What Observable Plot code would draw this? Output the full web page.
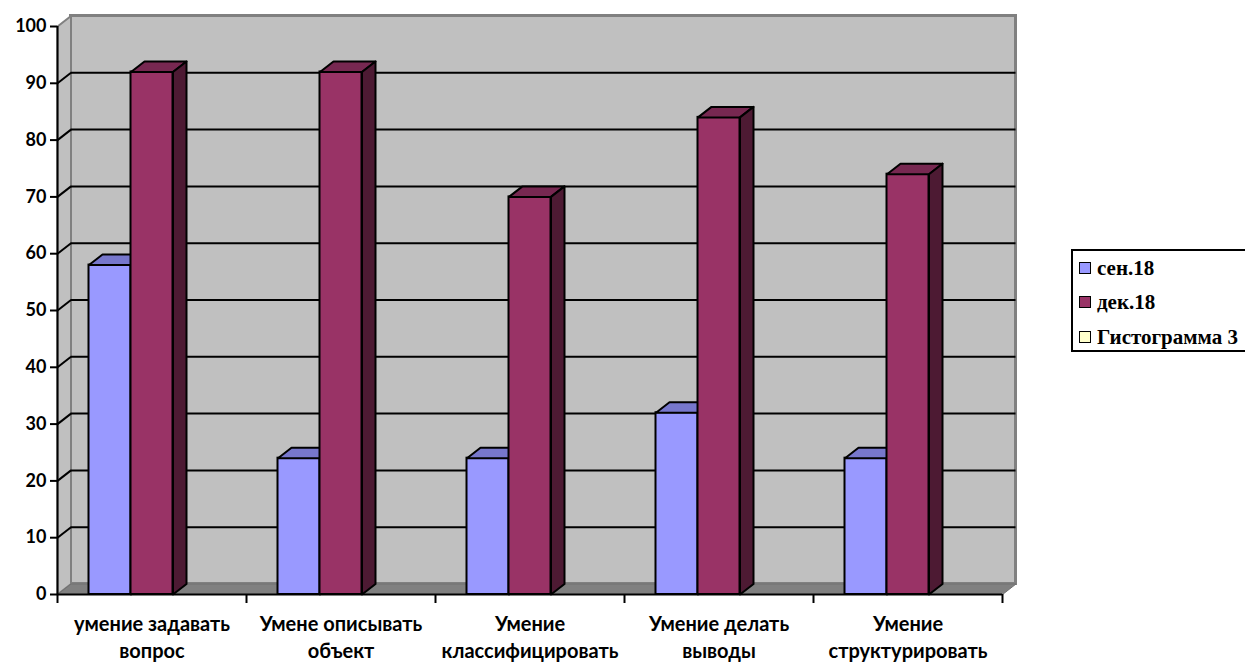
<!DOCTYPE html>
<html><head><meta charset="utf-8">
<script src="https://cdn.jsdelivr.net/npm/d3@7"></script>
<script src="https://cdn.jsdelivr.net/npm/@observablehq/plot@0.6"></script>
<style>
body{margin:0;background:#fff;overflow:hidden}
#wrap{position:relative;width:1245px;height:662px;overflow:hidden}
#legend{position:absolute;left:1071px;top:249px;width:200px;height:99px;border:2px solid #000;background:#fff;font-family:"Liberation Serif","Times New Roman",serif;font-weight:bold;font-size:21px;color:#000}
.item{position:absolute;left:6px;display:flex;align-items:center;height:22px;line-height:22px;white-space:nowrap}
.sw{width:10px;height:10px;border:1.5px solid #000;margin-right:6px}
</style></head><body><div id="wrap"><div id="legend"></div></div>
<script>
// ---- data ----
const categories = ["умение задавать\nвопрос", "Умене описывать\nобъект", "Умение\nклассифицировать", "Умение делать\nвыводы", "Умение\nструктурировать"];
const seriesNames = ["сен.18", "дек.18", "Гистограмма 3"];
const sep18 = [58, 24, 24, 32, 24];
const dec18 = [92, 92, 70, 84, 74];
const hist3 = [null, null, null, null, null];
const yTicks = [0, 10, 20, 30, 40, 50, 60, 70, 80, 90, 100];

// ---- styles ----
const seriesColors = [
  {front: "#9999ff", top: "#7777cc", side: "#5c5c99", legend: "#9999ff"},
  {front: "#993366", top: "#772851", side: "#4d1a33", legend: "#993366"},
  {front: "#ffffcc", top: "#cccc99", side: "#999973", legend: "#ffffcc"}
];
const W = 1245, H = 662, ML = 57, MR = 243, MT = 26, MB = 68;
const plotW = W - ML - MR, plotH = H - MT - MB;
const nCat = categories.length;
const DX = 13.5 * nCat / plotW;   // depth in x units
const DY = 10.5 * 100 / plotH;    // depth in y units
const OUTER = 31.5 / 189, BARW = 42 / 189;

const seriesValues = [sep18, dec18, hist3];

const marks = [];
// back wall
marks.push(Plot.rect([0], {x1: DX, x2: nCat + DX, y1: DY, y2: 100 + DY, fill: "#c0c0c0", stroke: "#808080", strokeWidth: 3}));
// left wall
const leftWall = [[0, 0], [0, 100], [DX, 100 + DY], [DX, DY], [0, 0]];
marks.push(Plot.line(leftWall, {x: d => d[0], y: d => d[1], fill: "#c0c0c0", stroke: "#808080", strokeWidth: 2}));
// floor
const floor = [[0, 0], [nCat, 0], [nCat + DX, DY], [DX, DY], [0, 0]];
marks.push(Plot.line(floor, {x: d => d[0], y: d => d[1], fill: "#808080", stroke: "#707070", strokeWidth: 1}));
// gridlines
const grid = yTicks.filter(v => v > 0 && v < 100);
marks.push(Plot.ruleY(grid, {y: v => v + DY, x1: DX, x2: nCat + DX, stroke: "#000", strokeWidth: 2}));
marks.push(Plot.link(grid, {x1: 0, y1: v => v, x2: DX, y2: v => v + DY, stroke: "#000", strokeWidth: 2}));

// bars
seriesValues.forEach((vals, j) => {
  const rows = vals.map((v, i) => ({i, v, x0: i + OUTER + j * BARW, x1: i + OUTER + (j + 1) * BARW})).filter(d => d.v != null);
  const c = seriesColors[j];
  marks.push(Plot.rect(rows, {x1: "x0", x2: "x1", y1: d => 0, y2: "v", fill: c.front, stroke: "#000", strokeWidth: 2}));
  const tops = rows.flatMap(d => [
    [d.x0, d.v], [d.x1, d.v], [d.x1 + DX, d.v + DY], [d.x0 + DX, d.v + DY], [d.x0, d.v]
  ].map(p => ({id: d.i, x: p[0], y: p[1]})));
  marks.push(Plot.line(tops, {x: "x", y: "y", z: "id", fill: c.top, stroke: "#000", strokeWidth: 2, strokeLinejoin: "round"}));
  const sides = rows.flatMap(d => [
    [d.x1, 0], [d.x1, d.v], [d.x1 + DX, d.v + DY], [d.x1 + DX, DY], [d.x1, 0]
  ].map(p => ({id: d.i, x: p[0], y: p[1]})));
  marks.push(Plot.line(sides, {x: "x", y: "y", z: "id", fill: c.side, stroke: "#000", strokeWidth: 2, strokeLinejoin: "round"}));
});

// axes
marks.push(Plot.ruleX([0], {y1: 0, y2: 100, stroke: "#000", strokeWidth: 2}));
marks.push(Plot.ruleY([0], {x1: 0, x2: nCat, stroke: "#000", strokeWidth: 2}));
marks.push(Plot.axisY(yTicks, {tickSize: 7, tickPadding: 4, strokeWidth: 2, label: null, fontSize: 18, fontWeight: "bold", fill: "#000", stroke: "#000"}));
marks.push(Plot.axisX(d3.range(0, nCat + 1), {tickSize: 9, tickFormat: () => "", strokeWidth: 2, label: null, stroke: "#000"}));
marks.push(Plot.text(categories, {x: (d, i) => i + 0.5, y: d => 0, text: d => d, dy: 17, lineAnchor: "top", lineHeight: 1.35, fontSize: 20, fontWeight: "bold", fill: "#000"}));

const chart = Plot.plot({
  width: W, height: H,
  marginLeft: ML, marginRight: MR, marginTop: MT, marginBottom: MB,
  x: {domain: [0, nCat], axis: null},
  y: {domain: [0, 100], axis: null},
  style: {fontFamily: "Lato, 'Open Sans', sans-serif", fontSize: "18px", fontWeight: "bold", color: "#000", background: "transparent", overflow: "visible"},
  marks
});
document.getElementById("wrap").prepend(chart);

// legend
const legend = document.getElementById("legend");
const tops = [6, 40, 75];
seriesNames.forEach((name, j) => {
  const it = document.createElement("div");
  it.className = "item";
  it.style.top = tops[j] + "px";
  const sw = document.createElement("span");
  sw.className = "sw";
  sw.style.background = seriesColors[j].legend;
  it.appendChild(sw);
  const t = document.createElement("span");
  t.textContent = name;
  it.appendChild(t);
  legend.appendChild(it);
});
</script>
</body></html>
